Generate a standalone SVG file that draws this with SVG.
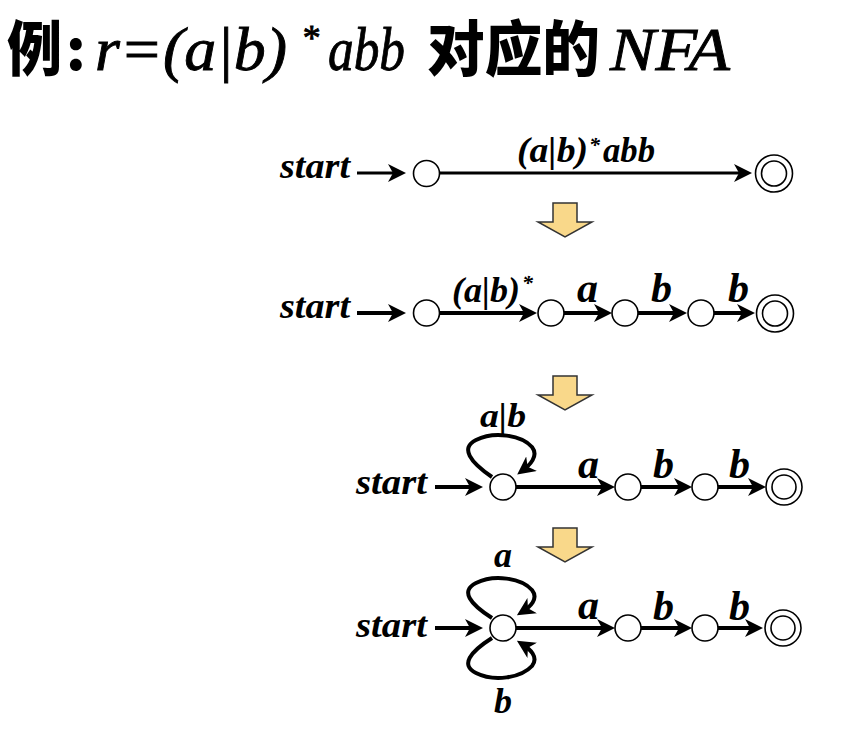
<svg xmlns="http://www.w3.org/2000/svg" width="845" height="737" viewBox="0 0 845 737">
<defs>
<style>
.cjk{font-family:"Noto Sans CJK SC","Noto Sans",sans-serif;font-weight:900;fill:#000}
.math{font-family:"Liberation Serif","Times New Roman",serif;font-style:italic;fill:#000;stroke:#000;stroke-width:0.9}
.lbl{font-family:"Liberation Serif","Times New Roman",serif;font-style:italic;font-weight:bold;fill:#000}
.st{stroke:#000;fill:#fff;stroke-width:1.6}
.e{stroke:#000;fill:none;stroke-width:4;marker-end:url(#ah)}
.e3{stroke:#000;fill:none;stroke-width:3;marker-end:url(#ah)}
.yarrow{fill:#F9D88A;stroke:#333;stroke-width:1.5;stroke-linejoin:miter}
</style>
<marker id="ah" markerWidth="22" markerHeight="20" refX="12" refY="9" orient="auto" markerUnits="userSpaceOnUse">
<path d="M0,0 L18,9 L0,18 L5,9 z" fill="#000"/>
</marker>
</defs>

<g id="title">
<text class="cjk" x="7" y="71" font-size="60" textLength="55" lengthAdjust="spacingAndGlyphs">例</text>
<text class="cjk" x="66" y="70" font-size="56">:</text>
<text class="math" x="95" y="70" font-size="62" textLength="192" lengthAdjust="spacingAndGlyphs">r=(a|b)</text>
<text class="math" x="301" y="50" font-size="36" font-style="normal">*</text>
<text class="math" x="328" y="70" font-size="62" textLength="77" lengthAdjust="spacingAndGlyphs">abb</text>
<text class="cjk" x="427" y="71" font-size="60" textLength="173" lengthAdjust="spacingAndGlyphs">对应的</text>
<text class="math" x="610" y="70" font-size="62" textLength="120" lengthAdjust="spacingAndGlyphs">NFA</text>
</g>

<g id="connectors">
<!-- row 1 -->
<line class="e3" x1="357" y1="173" x2="400" y2="173"/>
<line class="e3" x1="440" y1="173" x2="746" y2="173"/>
<!-- row 2 -->
<line class="e" x1="357" y1="313" x2="400" y2="313"/>
<line class="e" x1="440" y1="313" x2="531" y2="313"/>
<line class="e" x1="564" y1="313" x2="606" y2="313"/>
<line class="e" x1="638" y1="313" x2="681" y2="313"/>
<line class="e" x1="714" y1="313" x2="749" y2="313"/>
<!-- row 3 -->
<line class="e" x1="435" y1="487" x2="477" y2="487"/>
<line class="e" x1="516" y1="487" x2="609" y2="487"/>
<line class="e" x1="641" y1="487" x2="686" y2="487"/>
<line class="e" x1="718" y1="487" x2="760" y2="487"/>
<path class="e" d="M492,477 C470,462 460,448 476,440 C494,431 521,435 532,447 C539,456 530,465 522,471"/>
<!-- row 4 -->
<line class="e" x1="435" y1="628" x2="477" y2="628"/>
<line class="e" x1="516" y1="628" x2="609" y2="628"/>
<line class="e" x1="641" y1="628" x2="686" y2="628"/>
<line class="e" x1="718" y1="628" x2="757" y2="628"/>
<path class="e" d="M492,618 C470,604 460,591 476,583 C494,574 521,578 532,590 C539,599 530,607 522,612"/>
<path class="e" d="M492,638 C470,652 460,665 476,673 C494,682 521,678 532,666 C539,657 530,649 522,644"/>
</g>

<g id="row1">
<text class="lbl" x="280" y="178" font-size="35" textLength="70" lengthAdjust="spacingAndGlyphs">start</text>
<circle id="r1s0" class="st" cx="426.5" cy="173.5" r="13"/>
<g id="r1s1"><circle class="st" cx="774" cy="173.5" r="18.5"/><circle class="st" cx="774" cy="173.5" r="12.5"/></g>
<text class="lbl" x="517" y="162" font-size="36" textLength="71" lengthAdjust="spacingAndGlyphs">(a|b)</text>
<text class="lbl" x="589" y="152" font-size="22" font-style="normal">*</text>
<text class="lbl" x="603" y="162" font-size="36" textLength="52" lengthAdjust="spacingAndGlyphs">abb</text>
</g>

<g id="yarrow1"><path class="yarrow" d="M553,203 H577 V222 H592 L565,237 L538,222 H553 Z"/></g>
<g id="yarrow2"><path class="yarrow" d="M553,376 H577 V395 H592 L565,410 L538,395 H553 Z"/></g>
<g id="yarrow3"><path class="yarrow" d="M553,528 H577 V547 H592 L565,562 L538,547 H553 Z"/></g>

<g id="row2">
<text class="lbl" x="280" y="318" font-size="35" textLength="70" lengthAdjust="spacingAndGlyphs">start</text>
<circle id="r2s0" class="st" cx="426.5" cy="313" r="13"/>
<circle id="r2s1" class="st" cx="551" cy="313" r="13"/>
<circle id="r2s2" class="st" cx="625" cy="313" r="13"/>
<circle id="r2s3" class="st" cx="701" cy="313" r="13"/>
<g id="r2s4"><circle class="st" cx="775" cy="313.5" r="18.5"/><circle class="st" cx="775" cy="313.5" r="12.5"/></g>
<text class="lbl" x="452" y="302" font-size="36" textLength="68" lengthAdjust="spacingAndGlyphs">(a|b)</text>
<text class="lbl" x="522" y="290" font-size="22" font-style="normal">*</text>
<text class="lbl" x="577" y="302" font-size="42">a</text>
<text class="lbl" x="651" y="302" font-size="42">b</text>
<text class="lbl" x="728" y="302" font-size="42">b</text>
</g>

<g id="row3">
<text class="lbl" x="356" y="494" font-size="35" textLength="71" lengthAdjust="spacingAndGlyphs">start</text>
<circle id="r3s0" class="st" cx="503" cy="487" r="13"/>
<circle id="r3s1" class="st" cx="628" cy="487" r="13"/>
<circle id="r3s2" class="st" cx="705" cy="487" r="13"/>
<g id="r3s3"><circle class="st" cx="784" cy="487" r="18"/><circle class="st" cx="784" cy="487" r="12"/></g>
<text class="lbl" x="480" y="427" font-size="34" textLength="46" lengthAdjust="spacingAndGlyphs">a|b</text>
<text class="lbl" x="578" y="478" font-size="42">a</text>
<text class="lbl" x="653" y="478" font-size="42">b</text>
<text class="lbl" x="729" y="478" font-size="42">b</text>
</g>

<g id="row4">
<text class="lbl" x="356" y="637" font-size="35" textLength="71" lengthAdjust="spacingAndGlyphs">start</text>
<circle id="r4s0" class="st" cx="503" cy="628" r="13"/>
<circle id="r4s1" class="st" cx="628" cy="628" r="13"/>
<circle id="r4s2" class="st" cx="705" cy="628" r="13"/>
<g id="r4s3"><circle class="st" cx="783" cy="628" r="18"/><circle class="st" cx="783" cy="628" r="12"/></g>
<text class="lbl" x="494" y="567" font-size="36">a</text>
<text class="lbl" x="494" y="713" font-size="36">b</text>
<text class="lbl" x="578" y="619" font-size="42">a</text>
<text class="lbl" x="653" y="620" font-size="42">b</text>
<text class="lbl" x="729" y="620" font-size="42">b</text>
</g>
</svg>
